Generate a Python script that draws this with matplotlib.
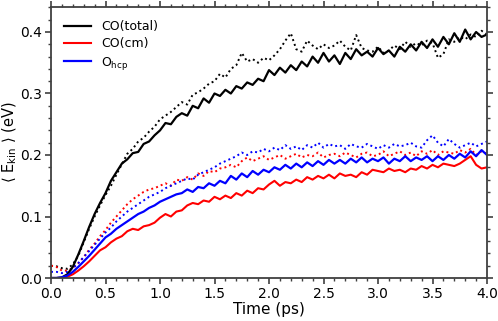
import matplotlib
matplotlib.use("Agg")
import matplotlib.pyplot as plt
import numpy as np
from matplotlib.ticker import MultipleLocator

#####################################################################
# Data (time step 0.05 ps)

time_ps = np.arange(0, 4.0001, 0.05)

co_total = [0.000, 0.000, 0.001, 0.006, 0.018, 0.038, 0.060, 0.083, 0.104, 0.122,
            0.138, 0.158, 0.172, 0.186, 0.193, 0.203, 0.205, 0.218, 0.222, 0.232,
            0.240, 0.252, 0.250, 0.262, 0.268, 0.264, 0.280, 0.276, 0.292, 0.285,
            0.300, 0.296, 0.306, 0.300, 0.312, 0.308, 0.318, 0.314, 0.324, 0.320,
            0.338, 0.330, 0.342, 0.334, 0.346, 0.338, 0.352, 0.344, 0.360, 0.350,
            0.366, 0.352, 0.362, 0.348, 0.366, 0.356, 0.372, 0.362, 0.368, 0.360,
            0.374, 0.364, 0.370, 0.360, 0.376, 0.368, 0.380, 0.370, 0.384, 0.374,
            0.388, 0.376, 0.392, 0.380, 0.398, 0.384, 0.404, 0.388, 0.400, 0.392,
            0.396]

co_total_ref = [0.020, 0.019, 0.016, 0.015, 0.022, 0.036, 0.058, 0.080, 0.100, 0.118,
                0.135, 0.150, 0.168, 0.185, 0.202, 0.210, 0.222, 0.228, 0.238, 0.246,
                0.258, 0.264, 0.270, 0.278, 0.286, 0.282, 0.298, 0.302, 0.308, 0.316,
                0.320, 0.332, 0.326, 0.340, 0.346, 0.366, 0.352, 0.356, 0.350, 0.358,
                0.354, 0.362, 0.372, 0.386, 0.398, 0.372, 0.368, 0.386, 0.378, 0.372,
                0.380, 0.374, 0.378, 0.386, 0.376, 0.370, 0.395, 0.374, 0.370, 0.368,
                0.376, 0.366, 0.370, 0.378, 0.372, 0.384, 0.376, 0.382, 0.378, 0.386,
                0.382, 0.358, 0.364, 0.388, 0.384, 0.392, 0.388, 0.396, 0.392, 0.402,
                0.396]

co_cm = [0.000, 0.000, 0.000, 0.002, 0.006, 0.012, 0.019, 0.027, 0.036, 0.045,
         0.050, 0.058, 0.064, 0.068, 0.076, 0.080, 0.078, 0.084, 0.086, 0.090,
         0.098, 0.104, 0.100, 0.108, 0.110, 0.118, 0.122, 0.120, 0.126, 0.124,
         0.132, 0.128, 0.134, 0.130, 0.138, 0.134, 0.142, 0.138, 0.146, 0.144,
         0.152, 0.158, 0.150, 0.156, 0.154, 0.160, 0.156, 0.164, 0.160, 0.166,
         0.162, 0.168, 0.162, 0.170, 0.166, 0.168, 0.164, 0.172, 0.168, 0.176,
         0.174, 0.172, 0.178, 0.174, 0.176, 0.172, 0.178, 0.176, 0.182, 0.178,
         0.184, 0.180, 0.186, 0.184, 0.182, 0.186, 0.192, 0.198, 0.184, 0.178,
         0.180]

co_cm_ref = [0.020, 0.018, 0.012, 0.012, 0.016, 0.024, 0.034, 0.046, 0.056, 0.068,
             0.078, 0.090, 0.100, 0.110, 0.120, 0.128, 0.134, 0.140, 0.144, 0.146,
             0.150, 0.154, 0.150, 0.160, 0.158, 0.164, 0.160, 0.170, 0.166, 0.174,
             0.172, 0.178, 0.180, 0.184, 0.180, 0.190, 0.196, 0.190, 0.194, 0.198,
             0.192, 0.196, 0.200, 0.194, 0.198, 0.202, 0.196, 0.200, 0.198, 0.204,
             0.196, 0.200, 0.202, 0.198, 0.204, 0.200, 0.196, 0.202, 0.204, 0.198,
             0.200, 0.206, 0.198, 0.202, 0.206, 0.200, 0.204, 0.198, 0.206, 0.202,
             0.208, 0.200, 0.206, 0.204, 0.202, 0.208, 0.204, 0.210, 0.200, 0.206,
             0.202]

o_hcp = [0.000, 0.000, 0.001, 0.004, 0.010, 0.018, 0.027, 0.036, 0.046, 0.056,
         0.066, 0.072, 0.080, 0.086, 0.092, 0.098, 0.104, 0.108, 0.114, 0.118,
         0.124, 0.128, 0.132, 0.136, 0.138, 0.144, 0.140, 0.148, 0.146, 0.154,
         0.150, 0.158, 0.154, 0.166, 0.160, 0.170, 0.164, 0.174, 0.168, 0.176,
         0.172, 0.180, 0.176, 0.184, 0.178, 0.186, 0.180, 0.188, 0.182, 0.190,
         0.184, 0.192, 0.186, 0.192, 0.186, 0.194, 0.188, 0.196, 0.188, 0.194,
         0.190, 0.196, 0.186, 0.194, 0.190, 0.198, 0.190, 0.196, 0.192, 0.198,
         0.190, 0.198, 0.192, 0.200, 0.194, 0.202, 0.196, 0.206, 0.198, 0.208,
         0.200]

o_hcp_ref = [0.010, 0.010, 0.008, 0.010, 0.016, 0.024, 0.034, 0.044, 0.054, 0.064,
             0.074, 0.082, 0.092, 0.100, 0.108, 0.114, 0.120, 0.126, 0.132, 0.136,
             0.140, 0.146, 0.150, 0.154, 0.158, 0.162, 0.160, 0.168, 0.172, 0.176,
             0.180, 0.186, 0.190, 0.194, 0.198, 0.204, 0.200, 0.206, 0.204, 0.210,
             0.206, 0.212, 0.208, 0.216, 0.210, 0.214, 0.208, 0.216, 0.212, 0.220,
             0.212, 0.218, 0.214, 0.216, 0.210, 0.218, 0.214, 0.212, 0.218, 0.214,
             0.210, 0.216, 0.212, 0.218, 0.214, 0.216, 0.220, 0.214, 0.212, 0.224,
             0.232, 0.220, 0.214, 0.226, 0.218, 0.212, 0.216, 0.220, 0.214, 0.218,
             0.222]

#####################################################################
# Plotting

dots = (0, (1, 1.6))
axis_col = '#404040'

fig = plt.figure(figsize=(4.98, 3.21), dpi=100)
ax = fig.add_axes([51/498, 43/321, 436/498, 270.6/321])

ax.plot(time_ps, co_total_ref, color='black', ls=dots, lw=1.4)
ax.plot(time_ps, co_cm_ref, color='red', ls=dots, lw=1.4)
ax.plot(time_ps, o_hcp_ref, color='blue', ls=dots, lw=1.4)

ax.plot(time_ps, co_total, color='black', lw=1.6, label='CO(total)')
ax.plot(time_ps, co_cm, color='red', lw=1.5, label='CO(cm)')
ax.plot(time_ps, o_hcp, color='blue', lw=1.6, label=r'O$_{\mathregular{hcp}}$')

ax.set_xlim(0, 4)
ax.set_ylim(0, 0.44)
ax.xaxis.set_major_locator(MultipleLocator(0.5))
ax.xaxis.set_minor_locator(MultipleLocator(0.1))
ax.yaxis.set_major_locator(MultipleLocator(0.1))
ax.yaxis.set_minor_locator(MultipleLocator(0.02))

ax.tick_params(which='both', direction='out', top=True, right=True,
               labeltop=False, labelright=False, color=axis_col, labelsize=10, pad=2.5)
ax.tick_params(which='major', length=4, width=1.2)
ax.tick_params(which='minor', length=2.5, width=1.0)
for s in ax.spines.values():
    s.set_color(axis_col)
    s.set_linewidth(1.3)

ax.set_xlabel('Time (ps)', fontsize=11, labelpad=1)
ax.set_ylabel(r'$\langle$ E$_{\mathregular{kin}}$ $\rangle$ (eV)', fontsize=10.5, labelpad=1)

ax.legend(loc='upper left', frameon=False, fontsize=9, handlelength=2.2,
          labelspacing=0.35, borderaxespad=0.6)

plt.savefig('out.png', dpi=100)
